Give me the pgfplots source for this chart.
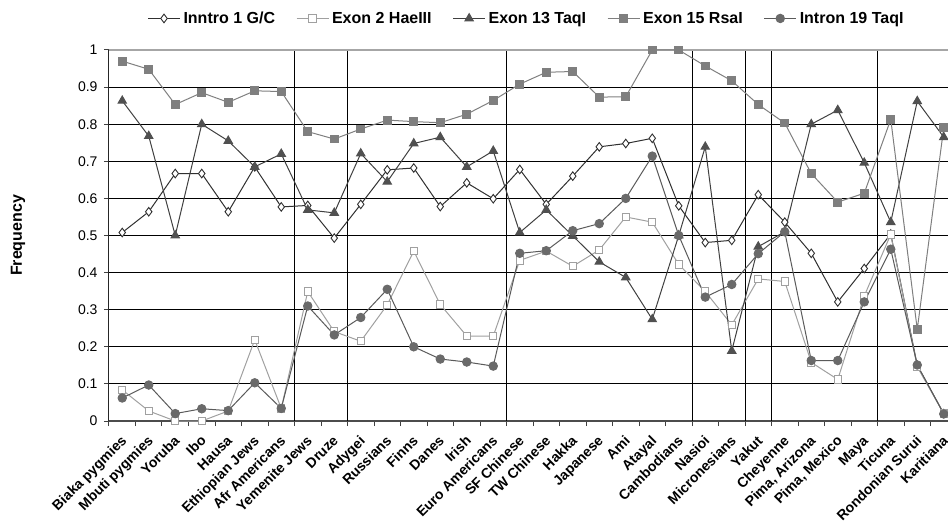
\documentclass[border=0pt]{standalone}
\usepackage{fontspec}
\setmainfont{Liberation Sans}
\usepackage{pgfplots}
\usepackage{pgfplotstable}
\pgfplotsset{compat=1.18}
\definecolor{cA}{HTML}{303030}
\definecolor{cB}{HTML}{A0A0A0}
\definecolor{cC}{HTML}{404040}
\definecolor{cCf}{HTML}{505050}
\definecolor{cD}{HTML}{7F7F7F}
\definecolor{cE}{HTML}{5A5A5A}
\definecolor{cEf}{HTML}{6A6A6A}

\pgfplotstableread{
x  ia     eb     ec     ed     ie
0  0.508  0.084  0.863  0.970  0.062
1  0.564  0.027  0.768  0.948  0.097
2  0.667  0.000  0.500  0.853  0.020
3  0.667  0.000  0.800  0.885  0.033
4  0.564  0.027  0.755  0.859  0.028
5  0.685  0.219  0.685  0.890  0.103
6  0.577  0.034  0.720  0.888  0.034
7  0.581  0.349  0.569  0.780  0.310
8  0.493  0.241  0.561  0.760  0.232
9  0.584  0.215  0.721  0.787  0.279
10 0.677  0.313  0.645  0.811  0.355
11 0.682  0.458  0.748  0.807  0.200
12 0.578  0.314  0.765  0.804  0.167
13 0.642  0.229  0.685  0.827  0.159
14 0.599  0.229  0.728  0.864  0.148
15 0.678  0.433  0.508  0.908  0.452
16 0.584  0.458  0.569  0.940  0.459
17 0.660  0.417  0.499  0.942  0.513
18 0.739  0.461  0.429  0.873  0.532
19 0.748  0.550  0.387  0.874  0.600
20 0.762  0.536  0.274  1.000  0.714
21 0.580  0.422  0.500  1.000  0.500
22 0.481  0.349  0.739  0.957  0.334
23 0.487  0.259  0.189  0.917  0.368
24 0.610  0.383  0.470  0.853  0.451
25 0.536  0.376  0.510  0.803  0.510
26 0.452  0.158  0.800  0.667  0.163
27 0.321  0.112  0.838  0.590  0.163
28 0.411  0.337  0.696  0.614  0.321
29 0.504  0.503  0.536  0.813  0.463
30 0.150  0.146  0.862  0.247  0.151
31 0.020  0.020  0.765  0.791  0.019
}\data

\begin{document}
\begin{tikzpicture}
\begin{axis}[
  scale only axis, width=839pt, height=371pt,
  xmin=-0.5, xmax=31.16, ymin=0, ymax=1,
  clip=false,
  axis x line*=bottom, axis y line*=left,
  x axis line style={draw=black!70, line width=1.6pt},
  y axis line style={draw=black!85, line width=1pt},
  xtick={0,...,31},
  xticklabels={Biaka pygmies, Mbuti pygmies, Yoruba, Ibo, Hausa, Ethiopian Jews, Afr Americans, Yemenite Jews, Druze, Adygei, Russians, Finns, Danes, Irish, Euro Americans, SF Chinese, TW Chinese, Hakka, Japanese, Ami, Atayal, Cambodians, Nasioi, Micronesians, Yakut, Cheyenne, {Pima, Arizona}, {Pima, Mexico}, Maya, Ticuna, Rondonian Surui, Karitiana},
  minor xtick={-0.5,0.5,...,30.5},
  ytick={0,0.1,0.2,0.3,0.4,0.5,0.6,0.7,0.8,0.9},
  extra y ticks={1},
  extra y tick style={ymajorgrids=true, major grid style={draw=black!35, line width=1.2pt}},
  minor ytick={0,0.1,0.2,0.3,0.4,0.5,0.6,0.7,0.8,0.9,1},
  extra x ticks={6.5,8.5,14.5,21.5,23.5,24.5,28.5},
  extra x tick labels={},
  extra x tick style={xmajorgrids=true},
  ymajorgrids=true,
  major grid style={draw=black, line width=0.9pt},
  major tick length=0pt,
  minor tick length=5pt,
  tick align=outside,
  minor tick style={draw=black!75, line width=1pt},
  /pgf/number format/assume math mode=true,
  yticklabel style={font=\fontsize{14}{16}\selectfont, xshift=-8pt},
  xticklabel style={font=\bfseries\fontsize{14}{16}\selectfont, rotate=45, anchor=north east, inner sep=1pt, xshift=-10pt, yshift=-7pt},
  every axis y label/.style={at={(axis description cs:-0.1085,0.5)}, rotate=90, anchor=center},
  ylabel={\bfseries Frequency},
  ylabel style={font=\bfseries\fontsize{16}{18}\selectfont},
  legend columns=5,
  legend style={at={(0.4976,1.085)}, anchor=center, draw=none, fill=none,
    font=\bfseries\fontsize{16}{18}\selectfont,
    /tikz/every even column/.append style={column sep=19pt}},
  legend image code/.code={\draw[mark repeat=2,mark phase=2] plot coordinates {(0pt,0pt)(16pt,0pt)(32pt,0pt)}; \path (33pt,0pt);},
]
\coordinate (bbsw) at (rel axis cs:0,0);
\coordinate (bbne) at (rel axis cs:1,1);
\addplot[color=cA, line width=1pt, mark=diamond*, mark size=4.3pt, mark options={solid, fill=white, draw=cA, line width=0.9pt}] table[x=x, y=ia] {\data};
\addlegendentry{Inntro 1 G/C}
\addplot[color=cB, line width=1pt, mark=square*, mark size=3.7pt, mark options={solid, fill=white, draw=cB, line width=1pt}] table[x=x, y=eb] {\data};
\addlegendentry{Exon 2 HaeIII}
\addplot[color=cC, line width=1pt, mark=triangle*, mark size=4.8pt, mark options={solid, fill=cCf, draw=cCf}] table[x=x, y=ec] {\data};
\addlegendentry{Exon 13 TaqI}
\addplot[color=cD, line width=1pt, mark=square*, mark size=3.9pt, mark options={solid, fill=cD, draw=cD}] table[x=x, y=ed] {\data};
\addlegendentry{Exon 15 RsaI}
\addplot[color=cE, line width=1pt, mark=*, mark size=4.2pt, mark options={solid, fill=cEf, draw=cEf}] table[x=x, y=ie] {\data};
\addlegendentry{Intron 19 TaqI}
\end{axis}
\pgfresetboundingbox
\path ([shift={(-109pt,-99pt)}]bbsw) rectangle ([shift={(0pt,50pt)}]bbne);
\end{tikzpicture}
\end{document}
